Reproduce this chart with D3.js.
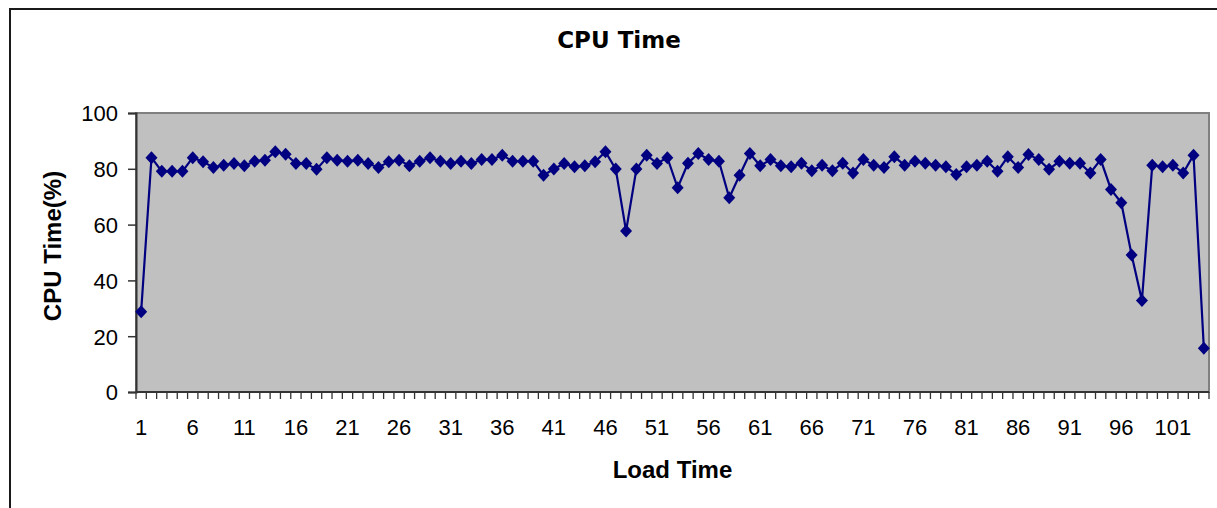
<!DOCTYPE html>
<html>
<head>
<meta charset="utf-8">
<script src="https://cdn.jsdelivr.net/npm/d3@7"></script>
<style>
  body { margin: 0; background: #fff; }
  svg text { font-family: "Liberation Sans", Arial, sans-serif; fill: #000; }
</style>
</head>
<body>
<div id="chart"></div>
<script>
var title = "CPU Time";
var xTitle = "Load Time";
var yTitle = "CPU Time(%)";
var yTicks = [0, 20, 40, 60, 80, 100];

// CPU time (%) per load step, 1..104
var cpuValues = [
  28.8, 84.0, 79.1, 79.1, 79.1, 84.0, 82.5, 80.5, 81.3, 81.9,
  81.1, 82.7, 83.1, 86.1, 85.2, 81.9, 81.9, 79.8, 84.0, 83.1,
  82.7, 83.1, 81.9, 80.5, 82.5, 83.1, 81.1, 82.7, 84.0, 82.7,
  81.9, 82.7, 81.9, 83.3, 83.3, 84.9, 82.7, 82.7, 82.7, 77.7,
  79.9, 81.9, 80.7, 81.1, 82.5, 86.1, 79.9, 57.7, 79.9, 84.9,
  81.9, 84.0, 73.2, 82.0, 85.5, 83.3, 82.7, 69.6, 77.7, 85.5,
  81.1, 83.3, 81.1, 80.7, 82.0, 79.3, 81.3, 79.3, 82.0, 78.5,
  83.3, 81.3, 80.5, 84.3, 81.3, 82.7, 82.0, 81.3, 80.7, 78.0,
  80.7, 81.3, 82.7, 79.1, 84.3, 80.5, 85.1, 83.3, 79.8, 82.7,
  82.0, 82.0, 78.5, 83.3, 72.6, 67.8, 49.1, 32.8, 81.3, 80.7,
  81.3, 78.5, 84.9, 15.7
];
var categories = cpuValues.map(function(d, i) { return i + 1; });
var data = cpuValues.map(function(v, i) { return { cat: categories[i], value: v }; });

var width = 1217, height = 508;
var plot = { left: 136, right: 1209, top: 113, bottom: 392 };

var svg = d3.select("#chart").append("svg")
  .attr("width", width)
  .attr("height", height);

// outer chart frame (runs off the right/bottom edge like the original)
svg.append("rect")
  .attr("x", 10).attr("y", 9)
  .attr("width", 1230).attr("height", 520)
  .attr("fill", "#fff")
  .attr("stroke", "#1a1a1a")
  .attr("stroke-width", 2);

var x = d3.scaleBand()
  .domain(categories)
  .range([plot.left, plot.right])
  .paddingInner(0).paddingOuter(0);

var y = d3.scaleLinear()
  .domain([0, 100])
  .range([plot.bottom, plot.top]);

// plot area
svg.append("rect")
  .attr("x", plot.left).attr("y", plot.top)
  .attr("width", plot.right - plot.left)
  .attr("height", plot.bottom - plot.top)
  .attr("fill", "#c0c0c0")
  .attr("stroke", "#808080")
  .attr("stroke-width", 2);

// y axis
var yAxis = d3.axisLeft(y)
  .tickValues(yTicks)
  .tickSize(8)
  .tickPadding(10);

var gy = svg.append("g")
  .attr("transform", "translate(" + plot.left + ",0)")
  .call(yAxis);
gy.select(".domain").attr("stroke", "#333").attr("stroke-width", 2);
gy.selectAll(".tick line").attr("stroke", "#333").attr("stroke-width", 1.5);
gy.selectAll(".tick text")
  .attr("font-size", 22)
  .attr("font-family", "Liberation Sans, Arial, sans-serif")
  .attr("fill", "#000")
  .attr("dy", "0.36em");

// x axis: ticks on category boundaries, labels every 5th category
var gx = svg.append("g").attr("class", "x-axis");
gx.append("line")
  .attr("x1", plot.left).attr("x2", plot.right)
  .attr("y1", plot.bottom).attr("y2", plot.bottom)
  .attr("stroke", "#333").attr("stroke-width", 2);

var boundaries = categories.map(function(c) { return x(c); }).concat([x(categories[categories.length - 1]) + x.step()]);
gx.selectAll("line.tick")
  .data(boundaries)
  .enter().append("line")
  .attr("class", "tick")
  .attr("x1", function(d) { return d; })
  .attr("x2", function(d) { return d; })
  .attr("y1", plot.bottom)
  .attr("y2", plot.bottom + 7)
  .attr("stroke", "#333")
  .attr("stroke-width", 1.3);

gx.selectAll("text")
  .data(categories.filter(function(c) { return (c - 1) % 5 === 0; }))
  .enter().append("text")
  .attr("x", function(d) { return x(d) + x.bandwidth() / 2; })
  .attr("y", 435)
  .attr("text-anchor", "middle")
  .attr("font-size", 22)
  .text(function(d) { return d; });

// series line
var line = d3.line()
  .x(function(d) { return x(d.cat) + x.bandwidth() / 2; })
  .y(function(d) { return y(d.value); });

svg.append("path")
  .datum(data)
  .attr("d", line)
  .attr("fill", "none")
  .attr("stroke", "#000080")
  .attr("stroke-width", 2.2);

// diamond markers
svg.selectAll("path.marker")
  .data(data)
  .enter().append("path")
  .attr("class", "marker")
  .attr("d", "M0,-6.5L6,0L0,6.5L-6,0Z")
  .attr("transform", function(d) {
    return "translate(" + (x(d.cat) + x.bandwidth() / 2) + "," + y(d.value) + ")";
  })
  .attr("fill", "#000080");

// titles
svg.append("text")
  .attr("x", 619).attr("y", 48)
  .attr("text-anchor", "middle")
  .style("font-family", "DejaVu Sans, sans-serif")
  .attr("font-weight", "bold")
  .attr("font-size", 23)
  .text(title);

svg.append("text")
  .attr("x", (plot.left + plot.right) / 2).attr("y", 478)
  .attr("text-anchor", "middle")
  .attr("font-weight", "bold")
  .attr("font-size", 24)
  .text(xTitle);

svg.append("text")
  .attr("transform", "translate(61," + 246 + ") rotate(-90)")
  .attr("text-anchor", "middle")
  .attr("font-weight", "bold")
  .attr("font-size", 24)
  .text(yTitle);
</script>
</body>
</html>
